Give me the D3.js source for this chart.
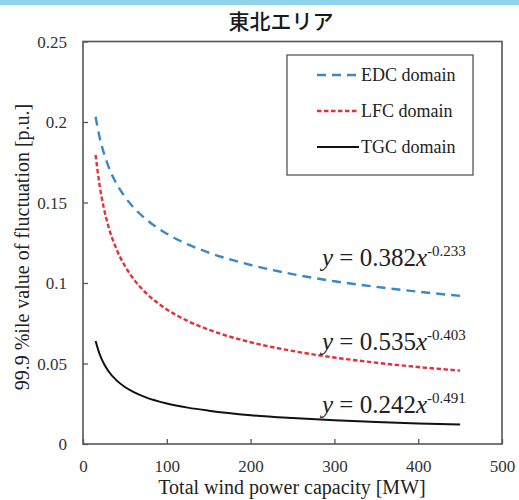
<!DOCTYPE html>
<html><head><meta charset="utf-8">
<script src="https://cdn.jsdelivr.net/npm/d3@7"></script>
<style>body{margin:0;background:#fff}svg{display:block}
svg text{font-family:"Liberation Serif",serif}
svg text.cjk{font-family:"Noto Sans CJK JP",sans-serif}</style>
</head><body><svg id="c" width="519" height="500"></svg>
<script>
const title = "東北エリア";
const xTicks = [0, 100, 200, 300, 400, 500];
const yTicks = [0, 0.05, 0.1, 0.15, 0.2, 0.25];
const capacity = [15, 20, 25, 30, 40, 50, 60, 75, 100, 125, 150, 200, 250, 300, 350, 400, 450];
const edc = [0.2033, 0.1901, 0.1805, 0.1729, 0.1617, 0.1535, 0.1471, 0.1397, 0.1306, 0.1240, 0.1189, 0.1112, 0.1055, 0.1011, 0.0976, 0.0946, 0.0920];
const lfc = [0.1796, 0.1600, 0.1462, 0.1358, 0.1210, 0.1106, 0.1027, 0.0939, 0.0836, 0.0764, 0.0710, 0.0632, 0.0578, 0.0537, 0.0505, 0.0478, 0.0456];
const tgc = [0.0640, 0.0556, 0.0498, 0.0455, 0.0395, 0.0354, 0.0324, 0.0290, 0.0252, 0.0226, 0.0207, 0.0179, 0.0161, 0.0147, 0.0137, 0.0128, 0.0121];
const seriesNames = ["EDC domain", "LFC domain", "TGC domain"];
const eqCoef = ["0.382", "0.535", "0.242"];
const eqExp = ["-0.233", "-0.403", "-0.491"];
const xTitle = "Total wind power capacity [MW]";
const yTitle = "99.9 %ile value of fluctuation [p.u.]";

const svg = d3.select("#c");
const L = 83, R = 502, T = 41.5, B = 444;
const x = d3.scaleLinear().domain([0, 500]).range([L, R]);
const y = d3.scaleLinear().domain([0, 0.25]).range([B, T]);

svg.append("rect").attr("x", 0).attr("y", 0).attr("width", 519).attr("height", 5).attr("fill", "#8fd2ee");

const styles = [
  {data: edc, color: "#3a88c4", dash: "9,6", w: 2.4},
  {data: lfc, color: "#e2303c", dash: "4.5,2.5", w: 2.4},
  {data: tgc, color: "#111", dash: null, w: 2}
];

// axes
const ya = svg.append("g").attr("transform", `translate(${L},0)`)
  .call(d3.axisLeft(y).tickValues(yTicks).tickSizeInner(-5).tickSizeOuter(0).tickPadding(16)
    .tickFormat(d => String(+d.toFixed(2))));
ya.attr("font-family", null).attr("font-size", 17);
ya.select(".domain").remove();
ya.selectAll("line").attr("stroke", "#555").attr("stroke-width", 1.3);
ya.selectAll("text").attr("fill", "#333").attr("dy", "0.34em");

const xa = svg.append("g").attr("transform", `translate(0,${B})`)
  .call(d3.axisBottom(x).tickValues(xTicks).tickSizeInner(-5).tickSizeOuter(0).tickPadding(0));
xa.attr("font-family", null).attr("font-size", 17);
xa.select(".domain").remove();
xa.selectAll("line").attr("stroke", "#555").attr("stroke-width", 1.3);
xa.selectAll("text").attr("fill", "#333").attr("dy", null).attr("y", 28);

svg.append("rect").attr("x", L).attr("y", T).attr("width", R - L).attr("height", B - T)
  .attr("fill", "none").attr("stroke", "#555").attr("stroke-width", 1.6);

// curves
const line = d3.line().x((d, i) => x(capacity[i])).y(d => y(d)).curve(d3.curveMonotoneX);
styles.forEach(s => {
  svg.append("path").attr("d", line(s.data)).attr("fill", "none")
    .attr("stroke", s.color).attr("stroke-width", s.w)
    .attr("stroke-dasharray", s.dash);
});

// equations
const eqPos = [[322, 266], [322, 350], [322, 413]];
eqCoef.forEach((c, i) => {
  const t = svg.append("text").attr("x", eqPos[i][0]).attr("y", eqPos[i][1])
    .attr("font-size", 25).attr("fill", "#222");
  t.append("tspan").attr("font-style", "italic").text("y");
  t.append("tspan").text(" = " + c);
  t.append("tspan").attr("font-style", "italic").text("x");
  t.append("tspan").attr("font-size", 15).attr("dy", -10).text(eqExp[i]);
});

// legend
svg.append("rect").attr("x", 287).attr("y", 55).attr("width", 186).attr("height", 120)
  .attr("fill", "#fff").attr("stroke", "#555").attr("stroke-width", 1.3);
seriesNames.forEach((n, i) => {
  const yy = 75 + i * 36;
  svg.append("line").attr("x1", 317).attr("x2", 359).attr("y1", yy).attr("y2", yy)
    .attr("stroke", styles[i].color).attr("stroke-width", styles[i].w)
    .attr("stroke-dasharray", styles[i].dash);
  svg.append("text").attr("x", 361).attr("y", yy + 6)
    .attr("font-size", 18).attr("fill", "#222").text(n);
});

// axis titles
svg.append("text").attr("x", 292).attr("y", 494).attr("text-anchor", "middle")
  .attr("font-size", 20).attr("fill", "#222").text(xTitle);
svg.append("text").attr("transform", "translate(29,247) rotate(-90)").attr("text-anchor", "middle")
  .attr("font-size", 20).attr("fill", "#222").text(yTitle);

// title
svg.append("text").attr("class", "cjk").attr("x", 281).attr("y", 29).attr("text-anchor", "middle")
  .attr("font-size", 21).attr("font-weight", 500).attr("fill", "#1a1a1a").text(title);
</script></body></html>
